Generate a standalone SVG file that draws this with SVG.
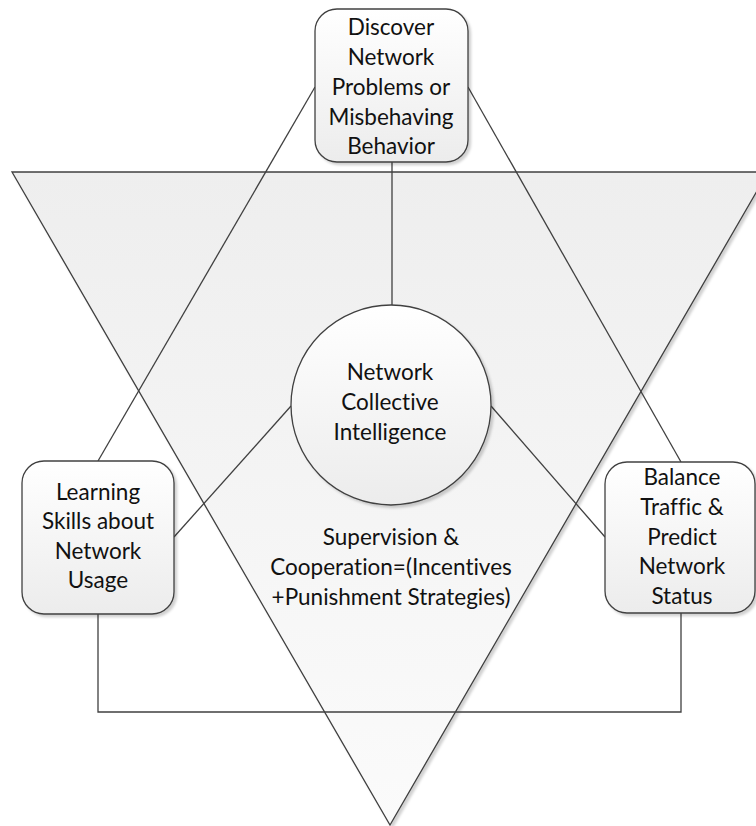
<svg xmlns="http://www.w3.org/2000/svg" width="756" height="826" viewBox="0 0 756 826">
<defs>
<linearGradient id="triG" x1="0" y1="0" x2="0" y2="1">
<stop offset="0" stop-color="#eeeeee"/>
<stop offset="1" stop-color="#fbfbfb"/>
</linearGradient>
<linearGradient id="nodeG" x1="0" y1="0" x2="0" y2="1">
<stop offset="0" stop-color="#ffffff"/>
<stop offset="1" stop-color="#ececec"/>
</linearGradient>
<filter id="sh" x="-10%" y="-10%" width="125%" height="125%">
<feDropShadow dx="2.5" dy="2.5" stdDeviation="1.2" flood-color="#000" flood-opacity="0.18"/>
</filter>
</defs>
<style>
.edge{fill:none;stroke:#404040;stroke-width:1.3}
.node{fill:url(#nodeG);stroke:#404040;stroke-width:1.3;filter:url(#sh)}
.tri{fill:url(#triG);stroke:#404040;stroke-width:1.3;filter:url(#sh)}
text{font-family:"Lato","Open Sans","Liberation Sans",sans-serif;font-size:22.5px;fill:#111;text-anchor:middle;font-variant-ligatures:none}
</style>
<g id="triangle">
<polygon class="tri" points="12,172 768,172 390,825"/>
<text x="391" y="545">Supervision &amp;</text>
<text x="391" y="575">Cooperation=(Incentives</text>
<text x="391" y="605">+Punishment Strategies)</text>
</g>
<g id="connectors">
<line class="edge" x1="392" y1="162" x2="392" y2="305"/>
<line class="edge" x1="315" y1="87" x2="98" y2="461"/>
<line class="edge" x1="468" y1="87" x2="681" y2="462"/>
<line class="edge" x1="291" y1="406" x2="174" y2="537"/>
<line class="edge" x1="491" y1="406" x2="605" y2="537"/>
<polyline class="edge" points="98,614 98,712 681,712 681,613"/>
</g>
<g id="node-discover">
<rect class="node" x="315" y="9" width="153" height="153" rx="22"/>
<text x="391" y="35">Discover</text>
<text x="391" y="65">Network</text>
<text x="391" y="95">Problems or</text>
<text x="391" y="125">Misbehaving</text>
<text x="391" y="154">Behavior</text>
</g>
<g id="node-center">
<circle class="node" cx="391" cy="405" r="100"/>
<text x="390" y="380">Network</text>
<text x="390" y="410">Collective</text>
<text x="390" y="440">Intelligence</text>
</g>
<g id="node-learning">
<rect class="node" x="22" y="461" width="152" height="153" rx="22"/>
<text x="98" y="500">Learning</text>
<text x="98" y="529">Skills about</text>
<text x="98" y="559">Network</text>
<text x="98" y="588">Usage</text>
</g>
<g id="node-balance">
<rect class="node" x="605" y="462" width="150" height="151" rx="22"/>
<text x="682" y="485">Balance</text>
<text x="682" y="515">Traffic &amp;</text>
<text x="682" y="545">Predict</text>
<text x="682" y="574">Network</text>
<text x="682" y="604">Status</text>
</g>
</svg>
